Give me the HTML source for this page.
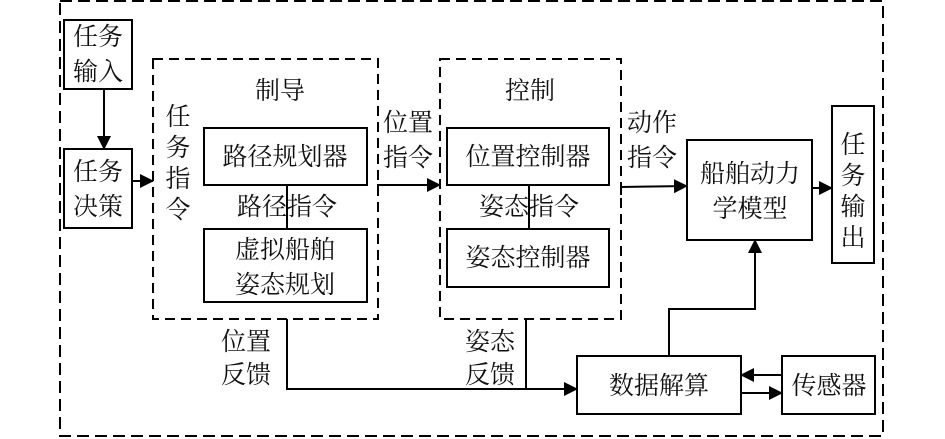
<!DOCTYPE html>
<html><head><meta charset="utf-8"><style>
html,body{margin:0;padding:0;background:#fff;width:945px;height:439px;overflow:hidden}
svg text{font-family:"Liberation Serif","Noto Serif CJK SC","Noto Sans CJK SC",serif;font-size:25px;fill:#111}
</style></head><body>
<svg width="945" height="439" viewBox="0 0 945 439" xmlns="http://www.w3.org/2000/svg">
<defs><marker id="a" markerWidth="10" markerHeight="10" refX="9" refY="5" orient="auto" markerUnits="userSpaceOnUse"><path d="M0,0 L10,5 L0,10 z" fill="#000"/></marker>
<marker id="b" markerWidth="14" markerHeight="14" refX="13" refY="7" orient="auto" markerUnits="userSpaceOnUse"><path d="M0,0 L14,7 L0,14 z" fill="#000"/></marker></defs>
<g fill="none" stroke="#000" stroke-width="2">
<rect x="60" y="1" width="823" height="435" stroke-dasharray="12,6"/>
<rect x="153" y="59" width="225" height="260" stroke-dasharray="10,6"/>
<rect x="440" y="59" width="181" height="260" stroke-dasharray="10,6"/>
<rect x="64" y="20" width="68" height="69"/>
<rect x="64" y="149" width="68" height="79"/>
<rect x="204" y="128" width="163" height="57"/>
<rect x="204" y="229" width="163" height="73"/>
<rect x="447" y="128" width="162" height="57"/>
<rect x="447" y="229" width="162" height="58"/>
<rect x="687" y="140" width="125" height="100"/>
<rect x="832" y="106" width="42" height="157"/>
<rect x="577" y="356" width="164" height="58"/>
<rect x="782" y="356" width="93" height="58"/>
<line x1="104" y1="89" x2="104" y2="149" marker-end="url(#b)"/>
<line x1="132" y1="181" x2="153" y2="181" marker-end="url(#b)"/>
<line x1="287" y1="185" x2="287" y2="229"/>
<line x1="529" y1="185" x2="529" y2="229"/>
<polyline points="378,195 378,185 440,185" marker-end="url(#b)"/>
<polyline points="621,195 621,187 687,186" marker-end="url(#b)"/>
<line x1="812" y1="188" x2="832" y2="188" marker-end="url(#b)"/>
<polyline points="669,356 669,309 755,309 755,240" marker-end="url(#b)"/>
<polyline points="287,319 287,389 577,389" marker-end="url(#b)"/>
<line x1="526" y1="319" x2="526" y2="389"/>
<line x1="782" y1="375" x2="741" y2="375" marker-end="url(#b)"/>
<line x1="741" y1="393" x2="782" y2="393" marker-end="url(#b)"/>
</g>
<g text-anchor="middle">
<text x="98" y="45">任务</text><text x="98" y="80">输入</text>
<text x="98" y="180">任务</text><text x="98" y="215">决策</text>
<text x="280" y="99">制导</text>
<text x="178" y="125">任</text><text x="178" y="156">务</text><text x="178" y="187">指</text><text x="178" y="218">令</text>
<text x="285" y="165">路径规划器</text>
<text x="287" y="215">路径指令</text>
<text x="285" y="258">虚拟船舶</text><text x="285" y="293">姿态规划</text>
<text x="408" y="131">位置</text><text x="408" y="166">指令</text>
<text x="530" y="99">控制</text>
<text x="528" y="165">位置控制器</text>
<text x="529" y="215">姿态指令</text>
<text x="528" y="266">姿态控制器</text>
<text x="652" y="131">动作</text><text x="652" y="166">指令</text>
<text x="750" y="182">船舶动力</text><text x="750" y="217">学模型</text>
<text x="853" y="153">任</text><text x="853" y="184">务</text><text x="853" y="215">输</text><text x="853" y="246">出</text>
<text x="246" y="350">位置</text><text x="246" y="383">反馈</text>
<text x="490" y="350">姿态</text><text x="490" y="383">反馈</text>
<text x="659" y="394">数据解算</text>
<text x="829" y="394">传感器</text>
</g>
</svg>
</body></html>
